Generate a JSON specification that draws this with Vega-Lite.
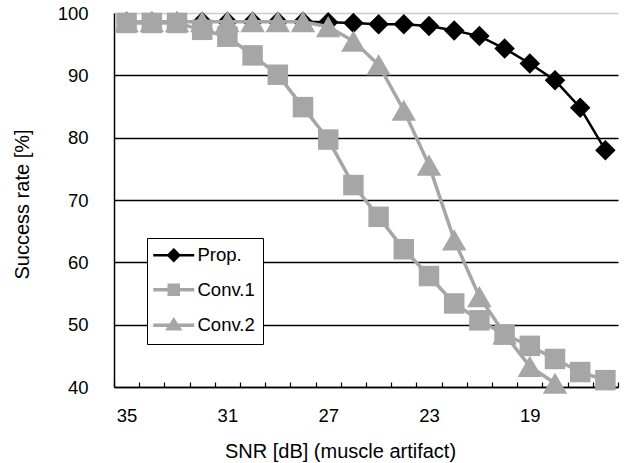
{
  "$schema": "https://vega.github.io/schema/vega-lite/v6.json",
  "width": 504,
  "height": 374,
  "autosize": {"type": "none"},
  "padding": {"left": 114, "top": 13, "right": 11, "bottom": 76},
  "background": "white",
  "config": {"view": {"stroke": null}, "font": "Liberation Sans"},
  "data": {"values": [
    {"snr": 35, "series": "Prop.", "rate": 98.6},
    {"snr": 34, "series": "Prop.", "rate": 98.6},
    {"snr": 33, "series": "Prop.", "rate": 98.6},
    {"snr": 32, "series": "Prop.", "rate": 98.6},
    {"snr": 31, "series": "Prop.", "rate": 98.6},
    {"snr": 30, "series": "Prop.", "rate": 98.6},
    {"snr": 29, "series": "Prop.", "rate": 98.6},
    {"snr": 28, "series": "Prop.", "rate": 98.6},
    {"snr": 27, "series": "Prop.", "rate": 98.5},
    {"snr": 26, "series": "Prop.", "rate": 98.4},
    {"snr": 25, "series": "Prop.", "rate": 98.2},
    {"snr": 24, "series": "Prop.", "rate": 98.2},
    {"snr": 23, "series": "Prop.", "rate": 97.9},
    {"snr": 22, "series": "Prop.", "rate": 97.2},
    {"snr": 21, "series": "Prop.", "rate": 96.3},
    {"snr": 20, "series": "Prop.", "rate": 94.3},
    {"snr": 19, "series": "Prop.", "rate": 91.9},
    {"snr": 18, "series": "Prop.", "rate": 89.2},
    {"snr": 17, "series": "Prop.", "rate": 84.8},
    {"snr": 16, "series": "Prop.", "rate": 78.0},
    {"snr": 35, "series": "Conv.1", "rate": 98.4},
    {"snr": 34, "series": "Conv.1", "rate": 98.4},
    {"snr": 33, "series": "Conv.1", "rate": 98.4},
    {"snr": 32, "series": "Conv.1", "rate": 97.3},
    {"snr": 31, "series": "Conv.1", "rate": 96.2},
    {"snr": 30, "series": "Conv.1", "rate": 93.2},
    {"snr": 29, "series": "Conv.1", "rate": 90.1},
    {"snr": 28, "series": "Conv.1", "rate": 84.9},
    {"snr": 27, "series": "Conv.1", "rate": 79.7},
    {"snr": 26, "series": "Conv.1", "rate": 72.4},
    {"snr": 25, "series": "Conv.1", "rate": 67.3},
    {"snr": 24, "series": "Conv.1", "rate": 62.1},
    {"snr": 23, "series": "Conv.1", "rate": 57.8},
    {"snr": 22, "series": "Conv.1", "rate": 53.4},
    {"snr": 21, "series": "Conv.1", "rate": 50.7},
    {"snr": 20, "series": "Conv.1", "rate": 48.4},
    {"snr": 19, "series": "Conv.1", "rate": 46.6},
    {"snr": 18, "series": "Conv.1", "rate": 44.5},
    {"snr": 17, "series": "Conv.1", "rate": 42.4},
    {"snr": 16, "series": "Conv.1", "rate": 41.1},
    {"snr": 35, "series": "Conv.2", "rate": 98.6},
    {"snr": 34, "series": "Conv.2", "rate": 98.6},
    {"snr": 33, "series": "Conv.2", "rate": 98.6},
    {"snr": 32, "series": "Conv.2", "rate": 98.6},
    {"snr": 31, "series": "Conv.2", "rate": 98.6},
    {"snr": 30, "series": "Conv.2", "rate": 98.6},
    {"snr": 29, "series": "Conv.2", "rate": 98.6},
    {"snr": 28, "series": "Conv.2", "rate": 98.6},
    {"snr": 27, "series": "Conv.2", "rate": 97.8},
    {"snr": 26, "series": "Conv.2", "rate": 95.5},
    {"snr": 25, "series": "Conv.2", "rate": 91.7},
    {"snr": 24, "series": "Conv.2", "rate": 84.4},
    {"snr": 23, "series": "Conv.2", "rate": 75.6},
    {"snr": 22, "series": "Conv.2", "rate": 63.6},
    {"snr": 21, "series": "Conv.2", "rate": 54.5},
    {"snr": 20, "series": "Conv.2", "rate": 48.5},
    {"snr": 19, "series": "Conv.2", "rate": 43.3},
    {"snr": 18, "series": "Conv.2", "rate": 40.6}
  ]},
  "encoding": {
    "x": {
      "field": "snr", "type": "quantitative",
      "scale": {"domain": [35.5, 15.5], "nice": false, "zero": false},
      "axis": {
        "title": "SNR [dB] (muscle artifact)",
        "values": [35.5, 34.5, 33.5, 32.5, 31.5, 30.5, 29.5, 28.5, 27.5, 26.5, 25.5, 24.5, 23.5, 22.5, 21.5, 20.5, 19.5, 18.5, 17.5, 16.5, 15.5],
        "labelExpr": "datum.value > 16 && (datum.value - 0.5) % 4 == 3 ? '' + (datum.value - 0.5) : ''",
        "labelOffset": 12.6,
        "labelOverlap": false,
        "labelFlush": false,
        "labelBaseline": "top",
        "tickSize": -5,
        "tickColor": "black",
        "tickWidth": 1.2,
        "labelPadding": 24,
        "grid": false,
        "domainColor": "black",
        "domainWidth": 1.5,
        "labelFontSize": 18.5,
        "labelColor": "black",
        "labelFont": "Liberation Sans",
        "titleFont": "Liberation Sans",
        "titleFontSize": 20,
        "titleFontWeight": "normal",
        "titleColor": "black",
        "titleX": 226,
        "titleY": 70,
        "titleAlign": "center",
        "titleBaseline": "alphabetic"
      }
    },
    "y": {
      "field": "rate", "type": "quantitative",
      "scale": {"domain": [40, 100], "nice": false, "zero": false},
      "axis": {
        "title": "Success rate [%]",
        "values": [40, 50, 60, 70, 80, 90, 100],
        "ticks": false,
        "tickSize": 0,
        "labelPadding": 26,
        "grid": true,
        "gridColor": {"condition": {"test": "datum.value == 100", "value": "#cccccc"}, "value": "black"},
        "gridWidth": 1.3,
        "domainColor": "black",
        "domainWidth": 1.5,
        "labelFontSize": 18.5,
        "labelColor": "black",
        "labelFont": "Liberation Sans",
        "titleFont": "Liberation Sans",
        "titleFontSize": 20,
        "titleFontWeight": "normal",
        "titleColor": "black",
        "titleX": -91.5,
        "titleY": 191,
        "titleAngle": -90,
        "titleAlign": "center",
        "titleBaseline": "middle"
      }
    },
    "color": {
      "field": "series", "type": "nominal",
      "scale": {"domain": ["Prop.", "Conv.1", "Conv.2"], "range": ["black", "#a6a6a6", "#a6a6a6"]},
      "legend": {
        "orient": "none",
        "legendX": 33,
        "legendY": 225,
        "title": null,
        "direction": "vertical",
        "strokeColor": "black",
        "fillColor": "white",
        "padding": 8,
        "rowPadding": 11.5,
        "symbolSize": 400,
        "symbolOffset": 9.5,
        "labelOffset": 14.5,
        "symbolType": "M-2.05,0L2.05,0",
        "labelFontSize": 18.5,
        "labelFont": "Liberation Sans",
        "labelColor": "black",
        "encode": {
          "symbols": {
            "update": {
              "shape": {"signal": "datum.value === 'Prop.' ? 'M-2.05,0L2.05,0M0,-0.55L0.55,0L0,0.55L-0.55,0Z' : datum.value === 'Conv.1' ? 'M-2.05,0L2.05,0M-0.45,-0.45L0.45,-0.45L0.45,0.45L-0.45,0.45Z' : 'M-2.05,0L2.05,0M0,-0.5L0.55,0.35L-0.55,0.35Z'"},
              "fill": {"signal": "datum.value === 'Prop.' ? 'black' : '#a6a6a6'"},
              "stroke": {"signal": "datum.value === 'Prop.' ? 'black' : '#a6a6a6'"},
              "strokeWidth": {"signal": "datum.value === 'Prop.' ? 2.5 : 3.5"},
              "size": {"value": 400},
              "opacity": {"value": 1},
              "fillOpacity": {"value": 1},
              "strokeOpacity": {"value": 1}
            }
          }
        }
      }
    }
  },
  "layer": [
    {
      "transform": [{"filter": "datum.series === 'Prop.'"}],
      "mark": {"type": "line", "strokeWidth": 2.5}
    },
    {
      "transform": [{"filter": "datum.series === 'Prop.'"}],
      "mark": {"type": "point", "filled": true, "opacity": 1, "shape": "diamond", "size": 420}
    },
    {
      "transform": [{"filter": "datum.series !== 'Prop.'"}],
      "mark": {"type": "line", "strokeWidth": 3.5}
    },
    {
      "transform": [{"filter": "datum.series === 'Conv.2'"}],
      "mark": {"type": "point", "filled": true, "opacity": 1, "shape": "triangle-up", "size": 600}
    },
    {
      "transform": [{"filter": "datum.series === 'Conv.1'"}],
      "mark": {"type": "point", "filled": true, "opacity": 1, "shape": "square", "size": 420}
    }
  ]
}
